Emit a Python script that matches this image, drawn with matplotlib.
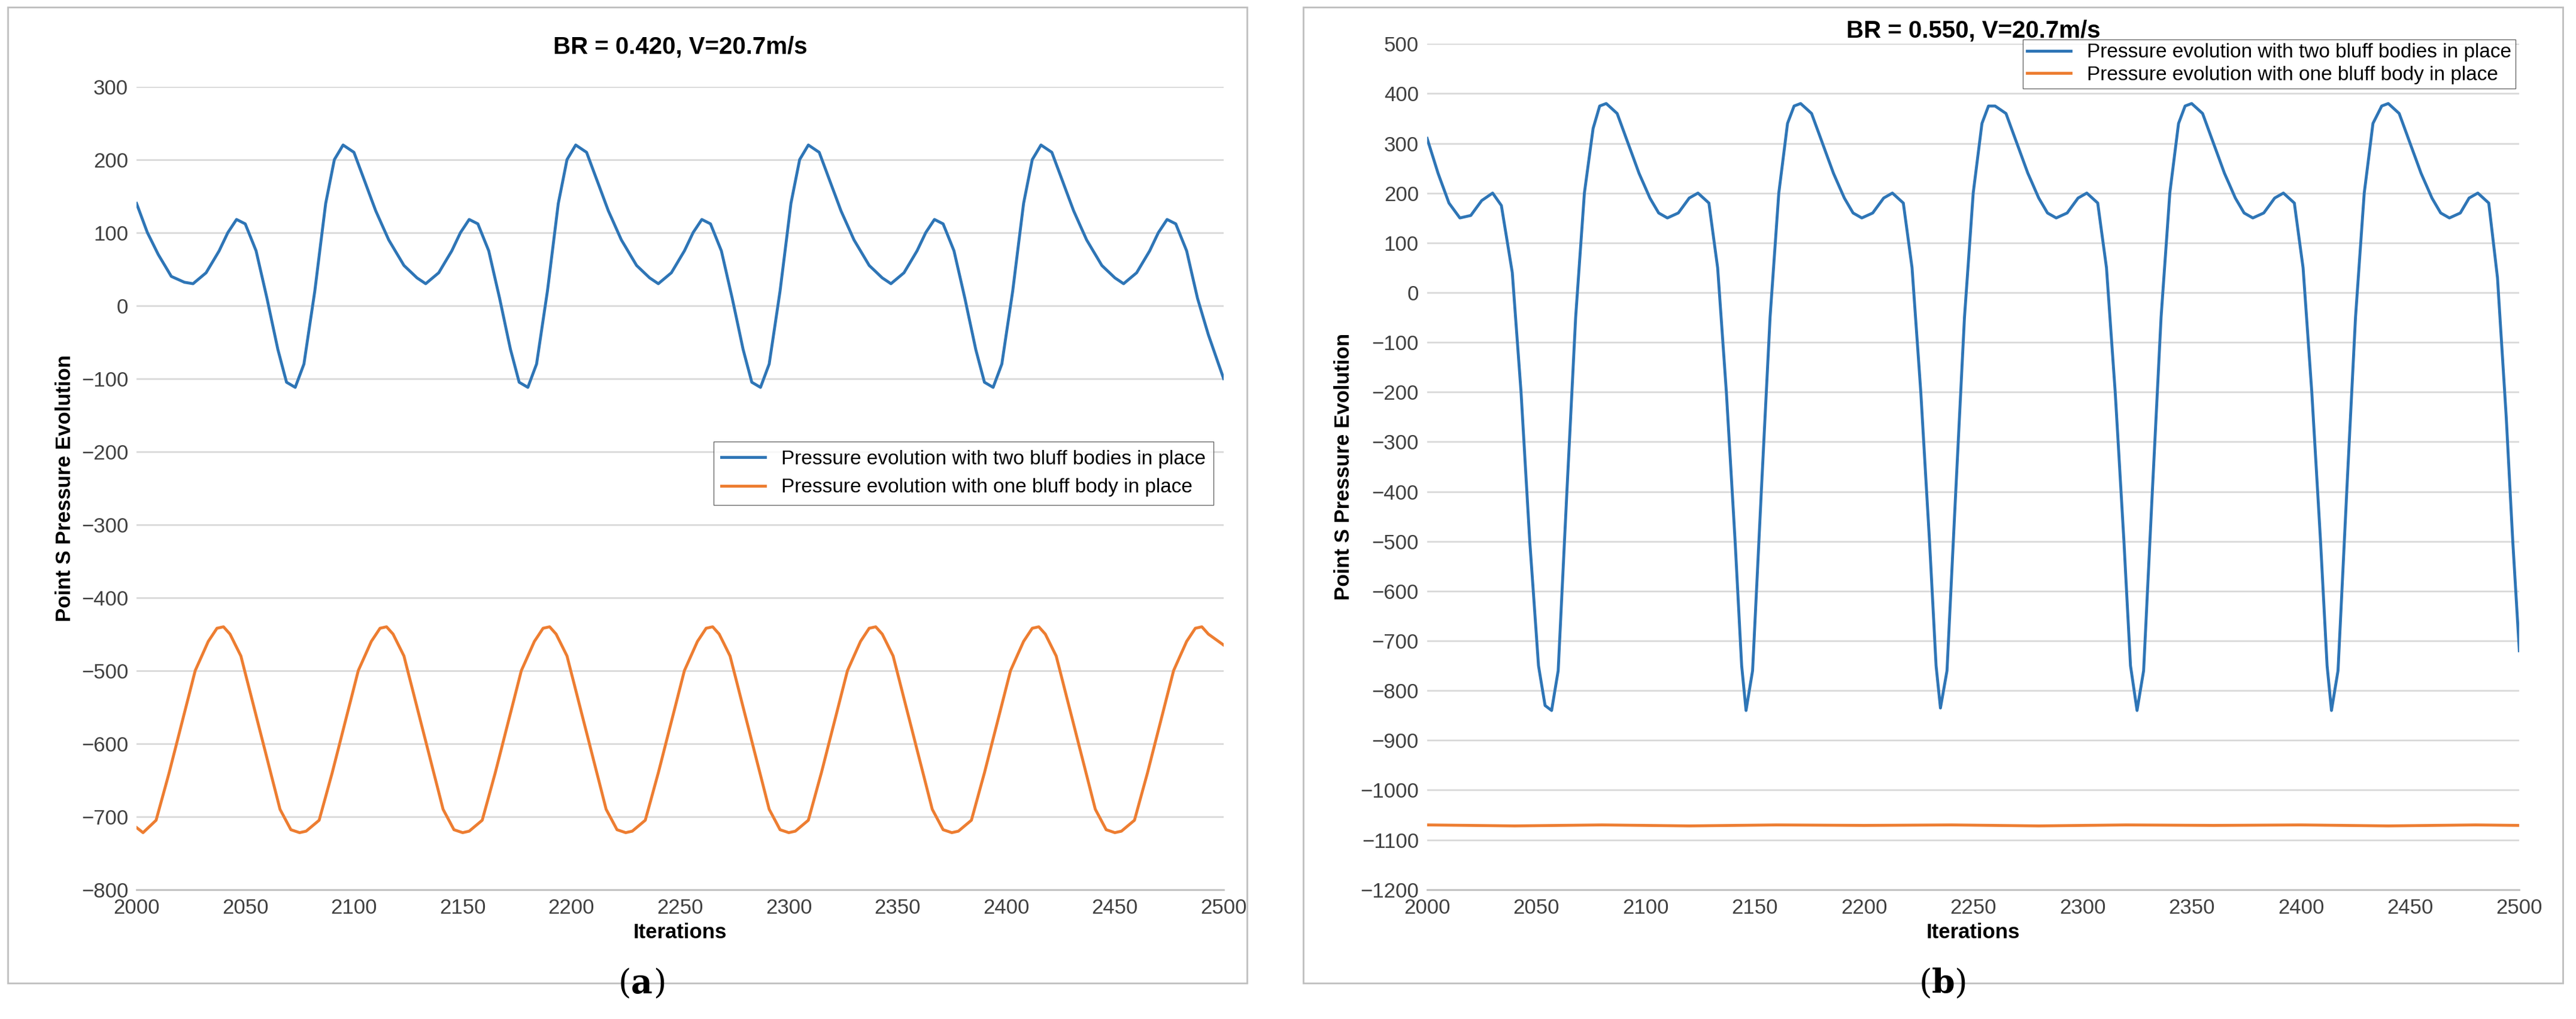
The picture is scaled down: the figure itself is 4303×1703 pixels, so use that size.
import matplotlib
matplotlib.use("Agg")
import matplotlib.pyplot as plt
from matplotlib.patches import Rectangle

# ---- data: panel (a) ----
a_two_x = [2000,2005,2010,2016,2022,2026,2032,2038,2042,2046,2050,2055,2060,2065,2069,2073,2077,2082,2087,2091,2095,
           2100,2105,2110,2116,2123,2129,2133,2139,2145,2149,2153,2157,2162,2167,2172,2176,2180,2184,2189,2194,2198,2202,
           2207,2212,2217,2223,2230,2236,2240,2246,2252,2256,2260,2264,2269,2274,2279,2283,2287,2291,2296,2301,2305,2309,
           2314,2319,2324,2330,2337,2343,2347,2353,2359,2363,2367,2371,2376,2381,2386,2390,2394,2398,2403,2408,2412,2416,
           2421,2426,2431,2437,2444,2450,2454,2460,2466,2470,2474,2478,2483,2488,2493,2500]
a_two_y = [140,100,70,40,32,30,45,75,100,118,112,75,10,-60,-105,-112,-80,20,140,200,220,
           210,170,130,90,55,38,30,45,75,100,118,112,75,10,-60,-105,-112,-80,20,140,200,220,
           210,170,130,90,55,38,30,45,75,100,118,112,75,10,-60,-105,-112,-80,20,140,200,220,
           210,170,130,90,55,38,30,45,75,100,118,112,75,10,-60,-105,-112,-80,20,140,200,220,
           210,170,130,90,55,38,30,45,75,100,118,112,75,10,-40,-100]
a_one_x = [2000,2003,2009,2015,2021,2027,2033,2037,2040,2043,2048,2054,2060,2066,2071,2075,2078,
           2084,2090,2096,2102,2108,2112,2115,2118,2123,2129,2135,2141,2146,2150,2153,
           2159,2165,2171,2177,2183,2187,2190,2193,2198,2204,2210,2216,2221,2225,2228,
           2234,2240,2246,2252,2258,2262,2265,2268,2273,2279,2285,2291,2296,2300,2303,
           2309,2315,2321,2327,2333,2337,2340,2343,2348,2354,2360,2366,2371,2375,2378,
           2384,2390,2396,2402,2408,2412,2415,2418,2423,2429,2435,2441,2446,2450,2453,
           2459,2465,2471,2477,2483,2487,2490,2493,2500]
a_one_y = [-715,-722,-705,-640,-570,-500,-460,-442,-440,-450,-480,-550,-620,-690,-718,-722,-720,
           -705,-640,-570,-500,-460,-442,-440,-450,-480,-550,-620,-690,-718,-722,-720,
           -705,-640,-570,-500,-460,-442,-440,-450,-480,-550,-620,-690,-718,-722,-720,
           -705,-640,-570,-500,-460,-442,-440,-450,-480,-550,-620,-690,-718,-722,-720,
           -705,-640,-570,-500,-460,-442,-440,-450,-480,-550,-620,-690,-718,-722,-720,
           -705,-640,-570,-500,-460,-442,-440,-450,-480,-550,-620,-690,-718,-722,-720,
           -705,-640,-570,-500,-460,-442,-440,-450,-465]

# ---- data: panel (b) ----
b_two_x = [2000,2005,2010,2015,2020,2025,2030,2034,2039,2043,2047,2051,2054,2057,2060,2064,2068,2072,2076,2079,2082,
           2087,2092,2097,2102,2106,2110,2115,2120,2124,2129,2133,2137,2141,2144,2146,2149,2153,2157,2161,2165,2168,2171,
           2176,2181,2186,2191,2195,2199,2204,2209,2213,2218,2222,2226,2230,2233,2235,2238,2242,2246,2250,2254,2257,2260,
           2265,2270,2275,2280,2284,2288,2293,2298,2302,2307,2311,2315,2319,2322,2325,2328,2332,2336,2340,2344,2347,2350,
           2355,2360,2365,2370,2374,2378,2383,2388,2392,2397,2401,2405,2409,2412,2414,2417,2421,2425,2429,2433,2437,2440,
           2445,2450,2455,2460,2464,2468,2473,2477,2481,2486,2490,2494,2497,2500]
b_two_y = [310,240,180,150,155,185,200,175,40,-200,-500,-750,-830,-840,-760,-400,-50,200,330,375,380,
           360,300,240,190,160,150,160,190,200,180,50,-200,-500,-750,-840,-760,-400,-50,200,340,375,380,
           360,300,240,190,160,150,160,190,200,180,50,-200,-500,-750,-835,-760,-400,-50,200,340,375,375,
           360,300,240,190,160,150,160,190,200,180,50,-200,-500,-750,-840,-760,-400,-50,200,340,375,380,
           360,300,240,190,160,150,160,190,200,180,50,-200,-500,-750,-840,-760,-400,-50,200,340,375,380,
           360,300,240,190,160,150,160,190,200,180,30,-250,-500,-720]
b_one_x = [2000,2040,2080,2120,2160,2200,2240,2280,2320,2360,2400,2440,2480,2500]
b_one_y = [-1070,-1072,-1070,-1072,-1070,-1071,-1070,-1072,-1070,-1071,-1070,-1072,-1070,-1071]

BLUE = "#2E75B6"
ORANGE = "#ED7D31"
plt.rcParams["font.family"] = "Liberation Sans"

fig = plt.figure(figsize=(43.03, 17.03), dpi=100)

for x0, w in [(0.003, 0.481), (0.506, 0.489)]:
    fig.patches.append(Rectangle((x0, 0.035), w, 0.958, transform=fig.transFigure,
                                 fill=False, edgecolor="#BFBFBF", linewidth=2))

def style(ax, yticks, title, pad):
    ax.set_xlim(2000, 2500)
    ax.set_xticks(range(2000, 2501, 50))
    ax.set_ylim(yticks[0], yticks[-1])
    ax.set_yticks(yticks)
    ax.yaxis.grid(True, color="#D9D9D9", linewidth=2)
    ax.set_axisbelow(True)
    for s in ["top", "right", "left"]:
        ax.spines[s].set_visible(False)
    ax.spines["bottom"].set_color("#BFBFBF")
    ax.spines["bottom"].set_linewidth(2)
    ax.tick_params(length=0, labelsize=25, colors="#404040", pad=10)
    ax.set_xlabel("Iterations", fontsize=25, fontweight="bold", labelpad=6)
    ax.set_ylabel("Point S Pressure Evolution", fontsize=25, fontweight="bold", labelpad=8)
    ax.set_title(title, fontsize=29, fontweight="bold", pad=pad)

ax1 = fig.add_axes([0.053, 0.127, 0.422, 0.788])
ax1.plot(a_two_x, a_two_y, color=BLUE, lw=3.5, label="Pressure evolution with two bluff bodies in place")
ax1.plot(a_one_x, a_one_y, color=ORANGE, lw=3.5, label="Pressure evolution with one bluff body in place")
style(ax1, list(range(-800, 301, 100)), "BR = 0.420, V=20.7m/s", 40)
ax1.legend(loc="upper right", bbox_to_anchor=(1.0, 0.57), fontsize=24, frameon=True,
           fancybox=False, edgecolor="#404040", handlelength=2.2)

ax2 = fig.add_axes([0.554, 0.127, 0.424, 0.83])
ax2.plot(b_two_x, b_two_y, color=BLUE, lw=3.5, label="Pressure evolution with two bluff bodies in place")
ax2.plot(b_one_x, b_one_y, color=ORANGE, lw=3.5, label="Pressure evolution with one bluff body in place")
style(ax2, list(range(-1200, 501, 100)), "BR = 0.550, V=20.7m/s", 8)
ax2.legend(loc="upper right", bbox_to_anchor=(1.0, 1.01), fontsize=24, frameon=True,
           fancybox=False, edgecolor="#404040", handlelength=2.2, borderaxespad=0.2,
           borderpad=0.2, labelspacing=0.2)

for xc, lab in [(0.245, "a"), (0.75, "b")]:
    fig.text(xc, 0.018, "(", fontsize=40, family="DejaVu Serif", ha="right", va="bottom")
    fig.text(xc, 0.018, lab, fontsize=40, family="DejaVu Serif", fontweight="bold", ha="left", va="bottom")
    fig.text(xc + 0.0085, 0.018, ")", fontsize=40, family="DejaVu Serif", ha="left", va="bottom")

fig.savefig("out.png", dpi=100)
